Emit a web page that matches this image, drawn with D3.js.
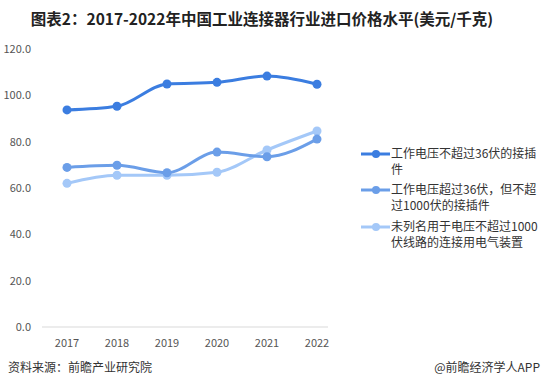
<!DOCTYPE html>
<html>
<head>
<meta charset="utf-8">
<script src="https://cdn.jsdelivr.net/npm/d3@7"></script>
<style>
  html, body { margin: 0; padding: 0; background: #fff; }
  svg { display: block; font-family: "Microsoft YaHei", "Noto Sans CJK SC", sans-serif; }
</style>
</head>
<body>
<div id="chart"></div>
<script>
var years = ["2017", "2018", "2019", "2020", "2021", "2022"];
var seriesNames = [
    ["工作电压不超过36伏的接插", "件"],
    ["工作电压超过36伏，但不超", "过1000伏的接插件"],
    ["未列名用于电压不超过1000", "伏线路的连接用电气装置"]
];
var lowVoltage = [93.7, 95.3, 104.9, 105.6, 108.3, 104.8];
var midVoltage = [68.9, 69.8, 66.6, 75.5, 73.5, 81.1];
var otherDevices = [62.0, 65.5, 65.5, 66.8, 76.4, 84.6];
var yTicks = [0, 20, 40, 60, 80, 100, 120];
var colors = ["#3b7de0", "#6b9ee8", "#a4c8f8"];

var series = [lowVoltage, midVoltage, otherDevices];

var width = 544,
    height = 391;

var svg = d3.select("#chart").append("svg")
    .attr("width", width)
    .attr("height", height);

svg.append("text")
    .attr("x", 262)
    .attr("y", 25)
    .attr("text-anchor", "middle")
    .attr("font-size", 15.5)
    .attr("font-weight", "bold")
    .attr("fill", "#222")
    .text("图表2：2017-2022年中国工业连接器行业进口价格水平(美元/千克)");

var x = d3.scalePoint()
    .domain(years)
    .range([67, 317]);

var y = d3.scaleLinear()
    .domain([0, 120])
    .range([327, 49]);

// y tick labels, no axis line
svg.append("g")
    .selectAll("text")
    .data(yTicks)
    .join("text")
    .attr("x", 31)
    .attr("y", d => y(d))
    .attr("dy", "0.35em")
    .attr("text-anchor", "end")
    .attr("font-size", 11)
    .attr("fill", "#555")
    .text(d => d.toFixed(1));

svg.append("line")
    .attr("x1", 42)
    .attr("x2", 328)
    .attr("y1", y(0))
    .attr("y2", y(0))
    .attr("stroke", "#d9d9d9")
    .attr("stroke-width", 1);

svg.append("g")
    .selectAll("text")
    .data(years)
    .join("text")
    .attr("x", d => x(d))
    .attr("y", 347)
    .attr("text-anchor", "middle")
    .attr("font-size", 11)
    .attr("fill", "#555")
    .text(d => d);

var line = d3.line()
    .x((d, i) => x(years[i]))
    .y(d => y(d))
    .curve(d3.curveMonotoneX);

// draw lighter series first so the darker ones sit on top
[2, 1, 0].forEach(function(k) {
    var g = svg.append("g");
    g.append("path")
        .attr("d", line(series[k]))
        .attr("fill", "none")
        .attr("stroke", colors[k])
        .attr("stroke-width", 3);
    g.selectAll("circle")
        .data(series[k])
        .join("circle")
        .attr("cx", (d, i) => x(years[i]))
        .attr("cy", d => y(d))
        .attr("r", 4.5)
        .attr("fill", colors[k]);
});

var legendRows = [154, 190, 227];

var legend = svg.append("g")
    .selectAll("g")
    .data(seriesNames)
    .join("g")
    .attr("transform", (d, i) => `translate(0,${legendRows[i]})`);

legend.append("line")
    .attr("x1", 361)
    .attr("x2", 390)
    .attr("stroke", (d, i) => colors[i])
    .attr("stroke-width", 3);

legend.append("circle")
    .attr("cx", 376)
    .attr("r", 4)
    .attr("fill", (d, i) => colors[i]);

legend.append("text")
    .attr("x", 391)
    .attr("y", 0)
    .attr("dy", "0.35em")
    .attr("font-size", 12)
    .attr("fill", "#333")
    .text(d => d[0]);

legend.append("text")
    .attr("x", 391)
    .attr("y", 16)
    .attr("dy", "0.35em")
    .attr("font-size", 12)
    .attr("fill", "#333")
    .text(d => d[1]);

svg.append("text")
    .attr("x", 8)
    .attr("y", 372)
    .attr("font-size", 12)
    .attr("fill", "#333")
    .text("资料来源：前瞻产业研究院");

svg.append("text")
    .attr("x", 540)
    .attr("y", 372)
    .attr("text-anchor", "end")
    .attr("font-size", 12)
    .attr("fill", "#333")
    .text("@前瞻经济学人APP");
</script>
</body>
</html>
